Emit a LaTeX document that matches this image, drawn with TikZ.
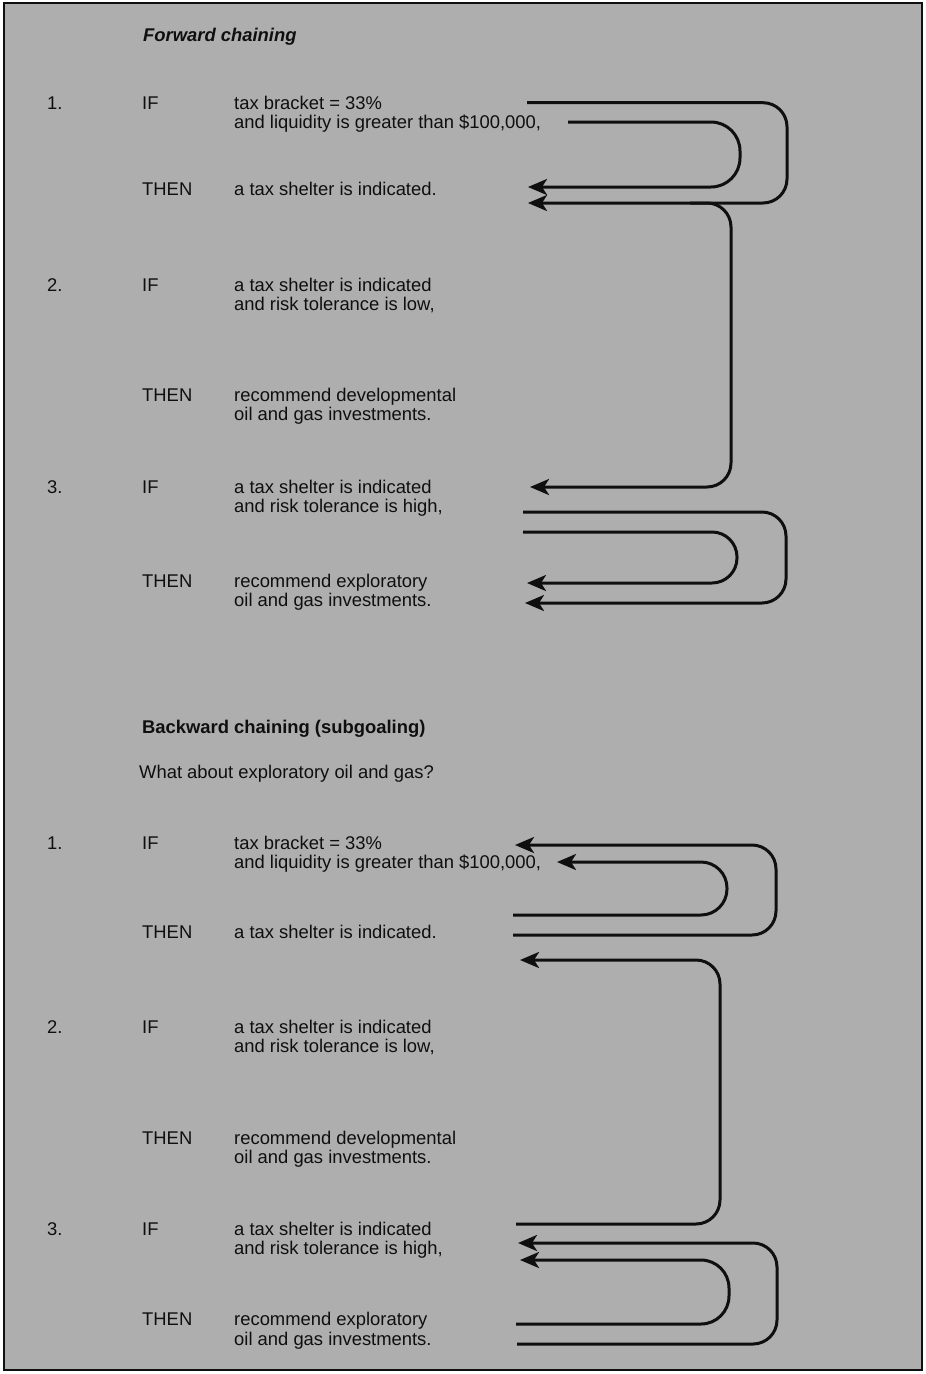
\documentclass[tikz,border=0pt]{standalone}
\usepackage{fontspec}
\setmainfont{Liberation Sans}
\usetikzlibrary{arrows.meta}
\definecolor{panelgray}{RGB}{174,174,174}
\definecolor{inkgray}{RGB}{15,15,15}
\newcommand\rulefont{\fontsize{18.4}{22}\selectfont}
\tikzset{
  txt/.style={anchor=base west, inner sep=0pt, text=inkgray, font=\rulefont},
  flow/.style={-{Stealth[length=19pt,width=16pt,inset=5pt]}, line width=3pt, draw=inkgray, rounded corners=24pt}
}

\begin{document}
\begin{tikzpicture}[x=1pt, y=-1pt]
    \useasboundingbox (0,0) rectangle (926,1374);
    \fill[white] (0,0) rectangle (926,1374);
    \draw[fill=panelgray, draw=inkgray, line width=1.5pt] (4,3) rectangle (922,1370);

    % forward chaining
    \node[txt, font=\rulefont\bfseries\itshape] (ftitle) at (143,41.6) {Forward chaining};
    \node[txt] (fn1) at (47,109.1) {1.};
    \node[txt] (fif1) at (142,109.1) {IF};
    \node[txt] (f1a) at (234,109.1) {tax bracket = 33\%};
    \node[txt] (f1b) at (234,128.6) {and liquidity is greater than \$100,000,};
    \node[txt] (fthen1) at (142,195.6) {THEN};
    \node[txt] (f1c) at (234,195.6) {a tax shelter is indicated.};
    \node[txt] (fn2) at (47,291.6) {2.};
    \node[txt] (fif2) at (142,291.6) {IF};
    \node[txt] (f2a) at (234,291.6) {a tax shelter is indicated};
    \node[txt] (f2b) at (234,310.6) {and risk tolerance is low,};
    \node[txt] (fthen2) at (142,401.6) {THEN};
    \node[txt] (f2c) at (234,401.6) {recommend developmental};
    \node[txt] (f2d) at (234,420.6) {oil and gas investments.};
    \node[txt] (fn3) at (47,493.6) {3.};
    \node[txt] (fif3) at (142,493.6) {IF};
    \node[txt] (f3a) at (234,493.6) {a tax shelter is indicated};
    \node[txt] (f3b) at (234,512.6) {and risk tolerance is high,};
    \node[txt] (fthen3) at (142,587.6) {THEN};
    \node[txt] (f3c) at (234,587.6) {recommend exploratory};
    \node[txt] (f3d) at (234,606.6) {oil and gas investments.};

    \coordinate (fo1s) at (527,102.7);
    \coordinate (fo1c) at (787,203);
    \coordinate (fo1e) at (528,203);
    \coordinate (fi1s) at (568,122);
    \coordinate (fi1c) at (740,187);
    \coordinate (fi1e) at (528,187);
    \coordinate (fls) at (690,203);
    \coordinate (flc) at (731,487);
    \coordinate (fle) at (530,487);
    \coordinate (fo3s) at (523,512);
    \coordinate (fo3c) at (786,603);
    \coordinate (fo3e) at (525,603);
    \coordinate (fi3s) at (523,532);
    \coordinate (fi3c) at (737,583);
    \coordinate (fi3e) at (527,583);
    \draw[flow] (fo1s) -| (fo1c) -- (fo1e);
    \draw[flow, rounded corners=29pt] (fi1s) -| (fi1c) -- (fi1e);
    \draw[flow] (fls) -| (flc) -- (fle);
    \draw[flow] (fo3s) -| (fo3c) -- (fo3e);
    \draw[flow, rounded corners=25pt] (fi3s) -| (fi3c) -- (fi3e);

    % backward chaining
    \node[txt, font=\rulefont\bfseries] (btitle) at (142,733.6) {Backward chaining (subgoaling)};
    \node[txt] (bq) at (139,778.6) {What about exploratory oil and gas?};
    \node[txt] (bn1) at (47,849.6) {1.};
    \node[txt] (bif1) at (142,849.6) {IF};
    \node[txt] (b1a) at (234,849.6) {tax bracket = 33\%};
    \node[txt] (b1b) at (234,868.6) {and liquidity is greater than \$100,000,};
    \node[txt] (bthen1) at (142,938.6) {THEN};
    \node[txt] (b1c) at (234,938.6) {a tax shelter is indicated.};
    \node[txt] (bn2) at (47,1033.6) {2.};
    \node[txt] (bif2) at (142,1033.6) {IF};
    \node[txt] (b2a) at (234,1033.6) {a tax shelter is indicated};
    \node[txt] (b2b) at (234,1052.6) {and risk tolerance is low,};
    \node[txt] (bthen2) at (142,1144.1) {THEN};
    \node[txt] (b2c) at (234,1144.1) {recommend developmental};
    \node[txt] (b2d) at (234,1163.6) {oil and gas investments.};
    \node[txt] (bn3) at (47,1235.6) {3.};
    \node[txt] (bif3) at (142,1235.6) {IF};
    \node[txt] (b3a) at (234,1235.6) {a tax shelter is indicated};
    \node[txt] (b3b) at (234,1254.6) {and risk tolerance is high,};
    \node[txt] (bthen3) at (142,1325.6) {THEN};
    \node[txt] (b3c) at (234,1325.6) {recommend exploratory};
    \node[txt] (b3d) at (234,1345.6) {oil and gas investments.};

    \coordinate (bo1s) at (513,935);
    \coordinate (bo1c) at (776,845);
    \coordinate (bo1e) at (515,845);
    \coordinate (bi1s) at (513,915);
    \coordinate (bi1c) at (727,862);
    \coordinate (bi1e) at (557,862);
    \coordinate (bls) at (516,1224);
    \coordinate (blc) at (720,960);
    \coordinate (ble) at (520,960);
    \coordinate (bo3s) at (517,1344);
    \coordinate (bo3c) at (777,1243);
    \coordinate (bo3e) at (518,1243);
    \coordinate (bi3s) at (516,1324);
    \coordinate (bi3c) at (729,1260);
    \coordinate (bi3e) at (520,1260);
    \draw[flow] (bo1s) -| (bo1c) -- (bo1e);
    \draw[flow, rounded corners=26pt] (bi1s) -| (bi1c) -- (bi1e);
    \draw[flow] (bls) -| (blc) -- (ble);
    \draw[flow] (bo3s) -| (bo3c) -- (bo3e);
    \draw[flow, rounded corners=28pt] (bi3s) -| (bi3c) -- (bi3e);
\end{tikzpicture}
\end{document}
